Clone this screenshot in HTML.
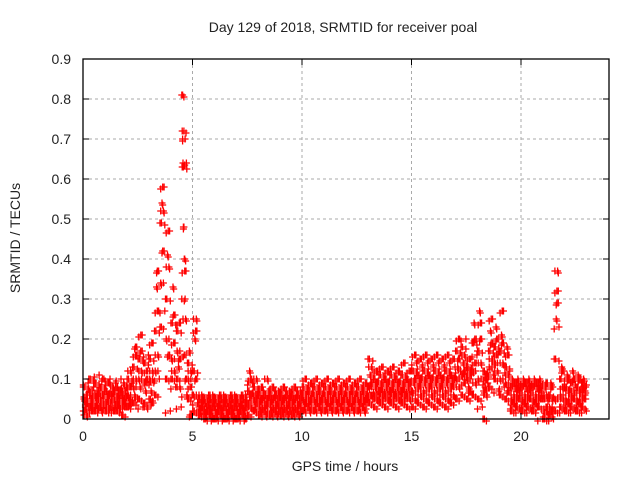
<!DOCTYPE html>
<html><head><meta charset="utf-8"><style>
body{margin:0;background:#fff}
svg text{font-family:"Liberation Sans",sans-serif;fill:#222}
</style></head><body>
<svg id="chart" width="640" height="480" xmlns="http://www.w3.org/2000/svg">
<rect width="640" height="480" fill="#fff"/>
<text x="343" y="32" font-size="14" text-anchor="middle">Day 129 of 2018, SRMTID for receiver poal</text>
<text x="345" y="471" font-size="14" text-anchor="middle">GPS time / hours</text>
<text transform="translate(20,238) rotate(-90)" font-size="14" text-anchor="middle">SRMTID / TECUs</text>
<g id="grid"></g><g id="pts"></g><g id="axes"></g>
</svg>
<script>
const xTicks=[0,5,10,15,20];
const yTicks=[0,0.1,0.2,0.3,0.4,0.5,0.6,0.7,0.8,0.9];
const binStarts=[];
for(let h=0;h<22.9;h+=0.25)binStarts.push(h);
const binValues=[
[.02,.05,.08,.03,.06,.01,.04,.09],[.03,.07,.1,.05,.02,.06,.04,.08],[.02,.06,.09,.04,.07,.03,.05,.11],[.03,.05,.08,.02,.06,.04,.1,.07],
[.02,.04,.07,.05,.09,.03,.06,.1],[.03,.06,.04,.08,.02,.05,.07,.09],[.02,.05,.08,.04,.06,.03,.07,.1],[.01,.04,.06,.09,.03,.07,.05,.08],
[.03,.06,.1,.05,.08,.12,.04,.09],[.04,.08,.13,.06,.16,.1,.18,.05],[.05,.1,.15,.08,.21,.12,.17,.03],[.04,.09,.14,.07,.12,.03,.1,.16],
[.05,.1,.15,.07,.19,.12,.04,.09],[.06,.12,.22,.33,.27,.16,.37,.1],[.23,.34,.49,.54,.58,.52,.42,.27],[.1,.2,.3,.41,.47,.38,.16,.02],
[.1,.15,.24,.33,.19,.12,.26,.08],[.1,.17,.22,.13,.24,.08,.15,.03],[.81,.72,.7,.64,.63,.48,.4,.37,.3,.25,.16,.1,.06],[.05,.1,.14,.17,.08,.12,.01,.06],
[.02,.06,.12,.2,.22,.25,.1,.04],[.01,.03,.05,.02,.04,.06,.03,.02],[0,.02,.04,.01,.03,.05,.02,.06],[.01,.03,.05,.02,.04,.06,0,.03],
[0,.02,.04,.01,.03,.05,.02,.06],[.01,.03,.05,.02,.04,.06,0,.03],[0,.02,.04,.01,.03,.05,.02,.06],[.01,.03,.05,.02,.04,.06,0,.03],
[0,.02,.04,.01,.03,.05,.02,.06],[.01,.03,.05,.02,.04,.06,0,.03],[.01,.04,.07,.12,.1,.03,.06,.09],[.02,.05,.08,.03,.06,.1,.04,.07],
[.01,.04,.06,.02,.08,.03,.05,.07],[.02,.03,.06,.01,.05,.1,.04,.07],[.01,.04,.06,.02,.08,.03,.05,.07],[.02,.03,.06,.01,.05,.07,.04,.02],
[.01,.04,.06,.02,.08,.03,.05,.07],[.02,.03,.06,.01,.05,.07,.04,.02],[.01,.04,.06,.02,.08,.03,.05,.07],[.02,.03,.06,.01,.05,.07,.04,.02],
[.02,.05,.08,.03,.1,.06,.04,.07],[.03,.04,.07,.02,.09,.06,.05,.08],[.02,.05,.08,.03,.1,.06,.04,.07],[.03,.04,.07,.02,.09,.06,.05,.08],
[.02,.05,.08,.03,.1,.06,.04,.07],[.03,.04,.07,.02,.09,.06,.05,.08],[.02,.05,.08,.03,.1,.06,.04,.07],[.03,.04,.07,.02,.09,.06,.05,.08],
[.02,.05,.08,.03,.1,.06,.04,.07],[.03,.04,.07,.02,.09,.06,.05,.08],[.02,.05,.08,.03,.1,.06,.04,.07],[.03,.04,.07,.02,.09,.06,.05,.08],
[.04,.08,.15,.11,.06,.13,.09,.05],[.03,.06,.1,.08,.12,.05,.09,.07],[.04,.07,.11,.08,.13,.05,.09,.06],[.03,.06,.1,.08,.12,.05,.09,.07],
[.04,.07,.11,.08,.13,.05,.09,.06],[.03,.06,.1,.08,.12,.05,.09,.07],[.04,.07,.11,.08,.14,.05,.09,.06],[.03,.06,.1,.08,.12,.05,.09,.07],
[.03,.07,.12,.09,.16,.05,.1,.14],[.04,.08,.11,.09,.15,.06,.1,.13],[.03,.07,.12,.09,.16,.05,.1,.14],[.04,.08,.11,.09,.15,.06,.1,.13],
[.03,.07,.12,.09,.16,.05,.1,.14],[.04,.08,.11,.09,.15,.06,.1,.13],[.03,.07,.12,.09,.16,.05,.1,.14],[.04,.08,.11,.09,.15,.06,.1,.13],
[.05,.1,.17,.13,.2,.08,.15,.12],[.06,.11,.18,.14,.09,.16,.12,.2],[.05,.1,.13,.08,.15,.12,.07,.11],[.06,.12,.19,.24,.14,.09,.2,.16],
[.05,.1,.17,.27,.24,.14,.2,.03],[0,.07,.12,.08,.1,.06,.11,.09],[.08,.13,.17,.22,.25,.15,.19,.11],[.1,.14,.18,.23,.16,.12,.2,.07],
[.06,.1,.17,.21,.27,.14,.19,.08],[.05,.09,.13,.18,.16,.11,.07,.12],[.02,.05,.08,.1,.04,.06,.09,.03],[.03,.06,.09,.1,.05,.07,.08,.02],
[.02,.05,.08,.1,.04,.06,.09,.03],[.03,.06,.09,.1,.05,.07,.08,.02],[.02,.05,.08,.1,.04,.06,.09,.03],[.03,.06,.09,.1,.05,.07,.08,.0],
[0,.02,.05,.08,.03,.06,.09,.01],[.01,.03,.06,.09,.02,.05,.08,0],[.02,.05,.15,.25,.32,.37,.29,.23],[.03,.06,.1,.13,.08,.05,.12,.02],
[.02,.05,.08,.11,.04,.07,.1,.03],[.03,.06,.09,.12,.05,.07,.1,.02],[.02,.05,.08,.11,.04,.07,.1,.03],[.03,.06,.09,.1,.05,.07,.08,.02]
];
const X0=83,XS=21.9,Y0=419,YS=400,XR=609,YT=59;
const sx=h=>X0+h*XS, sy=v=>Y0-v*YS;
const NS="http://www.w3.org/2000/svg";
function mk(t,a,p){const e=document.createElementNS(NS,t);for(const k in a)e.setAttribute(k,a[k]);p.appendChild(e);return e;}
const grid=document.getElementById('grid'),pts=document.getElementById('pts'),axes=document.getElementById('axes');
yTicks.forEach(v=>{const y=sy(v);
 if(v>0&&v<0.9){const g=mk('line',{x1:X0,x2:XR,y1:y,y2:y,stroke:'#aaa','stroke-dasharray':'3,3'},grid);
 
 }
 mk('line',{x1:X0,x2:X0+6,y1:y,y2:y,stroke:'#000'},axes);mk('line',{x1:XR,x2:XR-6,y1:y,y2:y,stroke:'#000'},axes);
 const t=mk('text',{x:X0-12,y:y+5,'font-size':14,'text-anchor':'end'},axes);t.textContent=v===0?'0':v.toFixed(1);
 
 
});
xTicks.forEach(h=>{const x=sx(h);
 if(h>0){const g=mk('line',{x1:x,x2:x,y1:YT,y2:Y0,stroke:'#aaa','stroke-dasharray':'3,3'},grid);
 
 }
 mk('line',{x1:x,x2:x,y1:Y0,y2:Y0-6,stroke:'#000'},axes);mk('line',{x1:x,x2:x,y1:YT,y2:YT+6,stroke:'#000'},axes);
 const t=mk('text',{x:x,y:Y0+22,'font-size':14,'text-anchor':'middle'},axes);t.textContent=h;
 
 
});
const frame=mk('rect',{x:X0,y:YT,width:XR-X0,height:Y0-YT,fill:'none',stroke:'#000','stroke-width':1.3},axes);


let d='';
function cross(x,y){d+=`M${(x-3.5).toFixed(1)} ${y.toFixed(1)}h7M${x.toFixed(1)} ${(y-3.5).toFixed(1)}v7`;}
binStarts.forEach((b,i)=>{const vals=binValues[i]||[];const n=vals.length;
 vals.forEach((v,j)=>{const y=sy(v);
  cross(sx(b+(j+0.5)/n*0.25),y);
  cross(sx(b+(((j*3+2)%n)+0.5)/n*0.25),y);
  cross(sx(b+(((j*5+5)%n)+0.5)/n*0.25),y+2);
 });
});
const p=mk('path',{d:d,stroke:'#f00','stroke-width':1.3,fill:'none'},pts);


</script>
</body></html>
